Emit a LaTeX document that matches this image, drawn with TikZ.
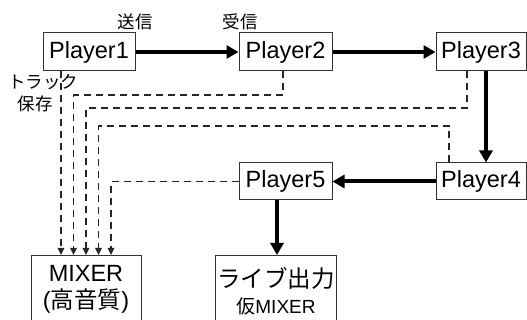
\documentclass[tikz,border=0pt]{standalone}
\usepackage{fontspec}
\setmainfont{Liberation Sans}
\newfontfamily\cjk{Noto Sans CJK JP}
\usetikzlibrary{arrows.meta,calc}
\begin{document}
\begin{tikzpicture}[x=1pt,y=-1pt,
  pbox/.style={draw=black!80, line width=1pt, minimum height=38pt, inner sep=0pt, font=\fontsize{23.5}{27}\selectfont},
  obox/.style={draw=black!80, line width=1pt, inner sep=0pt, anchor=north west},
  tharrow/.style={line width=4pt, -{Triangle[length=12pt,width=13pt]}},
  dsh/.style={draw=black!85, line width=1.2pt, dash pattern=on 7pt off 5pt, -{Triangle[length=7pt,width=6.5pt]}},
  jlab/.style={font=\cjk\fontsize{17.5}{20}\selectfont, inner sep=0pt}
]
\useasboundingbox (0,0) rectangle (527,320);
% players
\node[pbox, minimum width=92pt] (p1) at (89,52) {Player1};
\node[pbox, minimum width=93pt] (p2) at (285.5,52) {Player2};
\node[pbox, minimum width=90pt] (p3) at (481,52) {Player3};
\node[pbox, minimum width=90pt, minimum height=37pt] (p4) at (481,181.5) {Player4};
\node[pbox, minimum width=93pt, minimum height=37pt] (p5) at (285.5,181.5) {Player5};
% outputs
\node[obox, minimum width=110pt, minimum height=80pt] (mixer) at (31,255) {};
\node[obox, minimum width=121pt, minimum height=80pt] (live) at (215,255) {};
\node[inner sep=0pt, align=center, font=\fontsize{23.5}{27}\selectfont] (mixt) at (86,289.5)
  {MIXER\\({\cjk 高音質})};
\node[inner sep=0pt, font=\cjk\fontsize{23.5}{27}\selectfont] (livet1) at (276,278) {ライブ出力};
\node[inner sep=0pt, font=\fontsize{19}{22}\selectfont] (livet2) at (276,306) {{\cjk 仮}MIXER};
% labels
\node[jlab] (l1) at (135,22) {送信};
\node[jlab] (l2) at (240,22) {受信};
\node[jlab] (l3) at (43.5,82) {トラック};
\node[jlab] (l4) at (35,104) {保存};
% helper coordinates
\coordinate (x1) at (61,0);
\coordinate (x2) at (73.5,0);
\coordinate (x3) at (86,0);
\coordinate (x4) at (98.5,0);
\coordinate (x5) at (111,0);
\coordinate (t2) at (283,0);
\coordinate (t3) at (467,0);
\coordinate (t4) at (449,0);
\coordinate (h2) at (0,95);
\coordinate (h3) at (0,108);
\coordinate (h4) at (0,126);
\coordinate (v34) at (486,0);
\coordinate (v5) at (277,0);
% main flow
\draw[tharrow] (p1.east) -- (p2.west);
\draw[tharrow] (p2.east) -- (p3.west);
\draw[tharrow] (p3.south -| v34) -- (p4.north -| v34);
\draw[tharrow] (p4.west) -- (p5.east);
\draw[tharrow] (p5.south -| v5) -- (live.north -| v5);
% recording
\draw[dsh] (p1.south -| x1) -- (mixer.north -| x1);
\draw[dsh] (p2.south -| t2) |- (h2 -| x2) -- (mixer.north -| x2);
\draw[dsh] (p3.south -| t3) |- (h3 -| x3) -- (mixer.north -| x3);
\draw[dsh] (p4.north -| t4) |- (h4 -| x4) -- (mixer.north -| x4);
\draw[dsh] (p5.west) -| (mixer.north -| x5);
\end{tikzpicture}
\end{document}
